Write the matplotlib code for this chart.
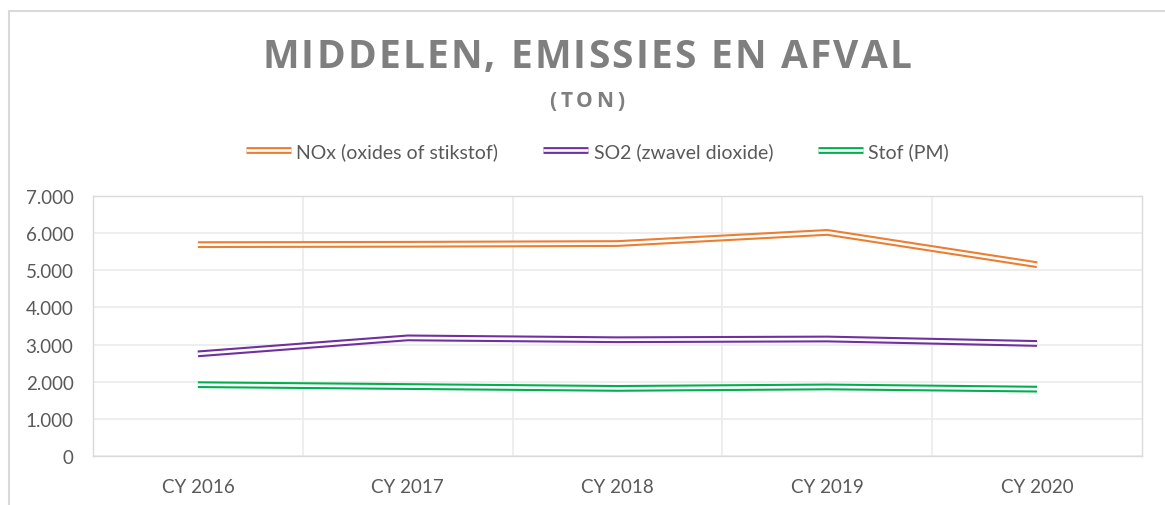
import matplotlib as mpl
import matplotlib.pyplot as plt
from matplotlib.lines import Line2D
from matplotlib.patches import Rectangle
from matplotlib.legend_handler import HandlerTuple
from matplotlib.ticker import FuncFormatter, FixedLocator

mpl.rcParams['font.family'] = ['Lato', 'DejaVu Sans']

categories = ["CY 2016", "CY 2017", "CY 2018", "CY 2019", "CY 2020"]
nox = [5690, 5700, 5720, 6020, 5150]
so2 = [2750, 3180, 3130, 3150, 3030]
stof = [1920, 1870, 1820, 1860, 1800]
series_names = ["NOx (oxides of stikstof)", "SO2 (zwavel dioxide)", "Stof (PM)"]
colors = ["#ED7D31", "#7030A0", "#00B050"]

title_color = "#7f7f7f"
label_color = "#595959"
grid_color = "#ebebeb"

fig = plt.figure(figsize=(11.65, 5.06), dpi=100)
fig.patch.set_facecolor("white")

# chart frame (cut off on right and bottom like the screenshot)
fig.patches.append(Rectangle((9 / 1165, -0.1), 1.2, 1 - 12 / 506 + 0.1,
                             transform=fig.transFigure, fill=False,
                             edgecolor="#d9d9d9", linewidth=1.5))

ax = fig.add_axes([93 / 1165, 1 - 457 / 506, (1142 - 93) / 1165, (457 - 197) / 506])

x = list(range(len(categories)))
handles = []
for vals, col in zip([nox, so2, stof], colors):
    ax.plot(x, vals, color=col, lw=4.9, solid_joinstyle='round', solid_capstyle='butt', zorder=3)
    ax.plot(x, vals, color="white", lw=1.9, solid_joinstyle='round', solid_capstyle='butt', zorder=4)
    handles.append((Line2D([], [], color=col, lw=4.9, solid_capstyle='butt'),
                    Line2D([], [], color="white", lw=1.9, solid_capstyle='butt')))

ax.set_xlim(-0.5, len(categories) - 0.5)
ax.set_ylim(0, 7000)
ax.set_yticks(range(0, 7001, 1000))
ax.yaxis.set_major_formatter(FuncFormatter(lambda v, p: f'{v:,.0f}'.replace(',', '.')))
ax.set_xticks(x)
ax.set_xticklabels(categories)
ax.xaxis.set_minor_locator(FixedLocator([i + 0.5 for i in range(len(categories) - 1)]))

ax.grid(axis='y', which='major', color=grid_color, lw=1.2)
ax.grid(axis='x', which='minor', color=grid_color, lw=1.2)
ax.set_axisbelow(True)
for s in ax.spines.values():
    s.set_color("#dadada")
    s.set_linewidth(1.0)

ax.tick_params(axis='both', which='both', length=0, labelsize=13.5, colors=label_color)
ax.tick_params(axis='y', pad=14)
ax.tick_params(axis='x', pad=16)

leg = fig.legend(handles, series_names, handler_map={tuple: HandlerTuple(ndivide=1)},
                 loc='center', bbox_to_anchor=(597.5 / 1165, 1 - 152 / 506), ncol=3, frameon=False,
                 fontsize=14, handlelength=2.3, handletextpad=0.3, columnspacing=2.3,
                 labelcolor=label_color)


def spaced_text(s, xc_px, yc, target_w, **kw):
    renderer = fig.canvas.get_renderer()
    texts = [fig.text(0, yc, ch, va='center', ha='left', **kw) for ch in s]
    widths = []
    for t, ch in zip(texts, s):
        if ch == " ":
            widths.append(kw['fontsize'] * 100 / 72 * 0.26)
        else:
            widths.append(t.get_window_extent(renderer).width)
    gap = (target_w - sum(widths)) / (len(s) - 1)
    pos = xc_px - target_w / 2
    for t, w in zip(texts, widths):
        t.set_x(pos / 1165)
        pos += w + gap


spaced_text("MIDDELEN, EMISSIES EN AFVAL", 587, 1 - 57 / 506, 650,
            fontsize=28, fontweight='bold', color=title_color, family='Open Sans')
spaced_text("(TON)", 587, 1 - 102 / 506, 75,
            fontsize=15, fontweight='bold', color=title_color, family='Open Sans')

fig.savefig("out.png", dpi=100)
